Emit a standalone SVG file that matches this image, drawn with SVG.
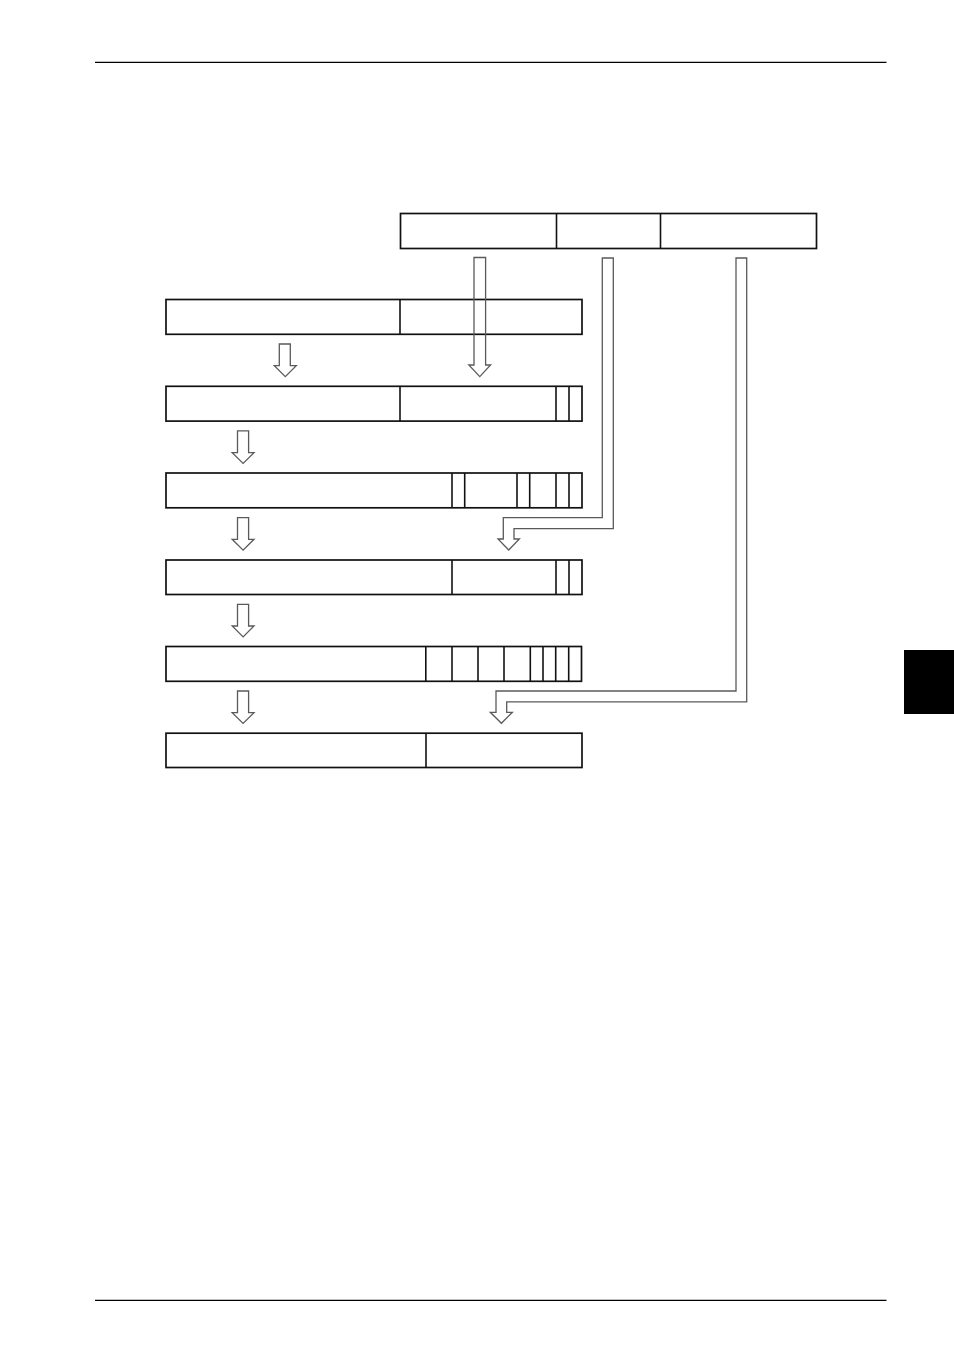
<svg xmlns="http://www.w3.org/2000/svg" width="954" height="1350" viewBox="0 0 954 1350">
<style>
.box{fill:none;stroke:#111;stroke-width:1.7}
.div{stroke:#111;stroke-width:1.6}
.arr{fill:none;stroke:#5a5a5a;stroke-width:1.3;stroke-linejoin:miter}
.rule{stroke:#000;stroke-width:1.2}
</style>
<rect width="954" height="1350" fill="#fff"/>
<g id="page">
<line class="rule" x1="95" y1="62.3" x2="886.5" y2="62.3"/>
<line class="rule" x1="95" y1="1300.3" x2="886.5" y2="1300.3"/>
<rect x="904" y="650" width="50" height="64" fill="#000"/>
</g>
<g id="source">
<rect class="box" x="400.5" y="213.5" width="416" height="35"/>
<line class="div" x1="556.5" y1="213.5" x2="556.5" y2="248.5"/>
<line class="div" x1="660.5" y1="213.5" x2="660.5" y2="248.5"/>
</g>
<g id="row1">
<rect class="box" x="166" y="299.5" width="416" height="34.8"/>
<line class="div" x1="400" y1="299.5" x2="400" y2="334.3"/>
</g>
<g id="row2">
<rect class="box" x="166" y="386.3" width="416" height="34.8"/>
<line class="div" x1="400" y1="386.3" x2="400" y2="421.1"/>
<line class="div" x1="556" y1="386.3" x2="556" y2="421.1"/>
<line class="div" x1="569" y1="386.3" x2="569" y2="421.1"/>
</g>
<g id="row3">
<rect class="box" x="166" y="473" width="416" height="34.8"/>
<line class="div" x1="452" y1="473" x2="452" y2="507.8"/>
<line class="div" x1="464.7" y1="473" x2="464.7" y2="507.8"/>
<line class="div" x1="517" y1="473" x2="517" y2="507.8"/>
<line class="div" x1="529.7" y1="473" x2="529.7" y2="507.8"/>
<line class="div" x1="556" y1="473" x2="556" y2="507.8"/>
<line class="div" x1="569" y1="473" x2="569" y2="507.8"/>
</g>
<g id="row4">
<rect class="box" x="166" y="560" width="416" height="34.5"/>
<line class="div" x1="452" y1="560" x2="452" y2="594.5"/>
<line class="div" x1="556" y1="560" x2="556" y2="594.5"/>
<line class="div" x1="569" y1="560" x2="569" y2="594.5"/>
</g>
<g id="row5">
<rect class="box" x="166" y="646.5" width="415.5" height="34.8"/>
<line class="div" x1="425.8" y1="646.5" x2="425.8" y2="681.3"/>
<line class="div" x1="452" y1="646.5" x2="452" y2="681.3"/>
<line class="div" x1="478" y1="646.5" x2="478" y2="681.3"/>
<line class="div" x1="504" y1="646.5" x2="504" y2="681.3"/>
<line class="div" x1="530.3" y1="646.5" x2="530.3" y2="681.3"/>
<line class="div" x1="543" y1="646.5" x2="543" y2="681.3"/>
<line class="div" x1="555.7" y1="646.5" x2="555.7" y2="681.3"/>
<line class="div" x1="568.7" y1="646.5" x2="568.7" y2="681.3"/>
</g>
<g id="row6">
<rect class="box" x="166" y="733.2" width="416" height="34.3"/>
<line class="div" x1="426" y1="733.2" x2="426" y2="767.5"/>
</g>
<g id="connectors">
<path class="arr" d="M279.3,344 L290.3,344 L290.3,365.6 L296.3,365.6 L285.3,376.6 L274.3,365.6 L279.3,365.6 Z"/>
<path class="arr" d="M237.5,430.8 L248.6,430.8 L248.6,452.6 L254,452.6 L243.1,463.4 L232.2,452.6 L237.5,452.6 Z"/>
<path class="arr" d="M237.5,517.6 L248.6,517.6 L248.6,539.3 L254,539.3 L243.1,550.2 L232.2,539.3 L237.5,539.3 Z"/>
<path class="arr" d="M237.5,604.3 L248.6,604.3 L248.6,626 L254,626 L243.1,636.9 L232.2,626 L237.5,626 Z"/>
<path class="arr" d="M237.5,691 L248.6,691 L248.6,712.6 L254,712.6 L243.1,723.4 L232.2,712.6 L237.5,712.6 Z"/>
<path class="arr" d="M474,257.5 L485.6,257.5 L485.6,365 L490.6,365 L479.8,376.6 L468.8,365 L474,365 Z"/>
<path class="arr" d="M602.3,258 L602.3,517.7 L503.3,517.7 L503.3,539 L498,539 L508.7,550 L519.4,539 L514,539 L514,528.6 L613.3,528.6 L613.3,258 Z"/>
<path class="arr" d="M736,258 L736,691 L496,691 L496,712.3 L490.3,712.3 L501.4,723.3 L512.4,712.3 L506.7,712.3 L506.7,701.8 L746.7,701.8 L746.7,258 Z"/>
</g>
</svg>
